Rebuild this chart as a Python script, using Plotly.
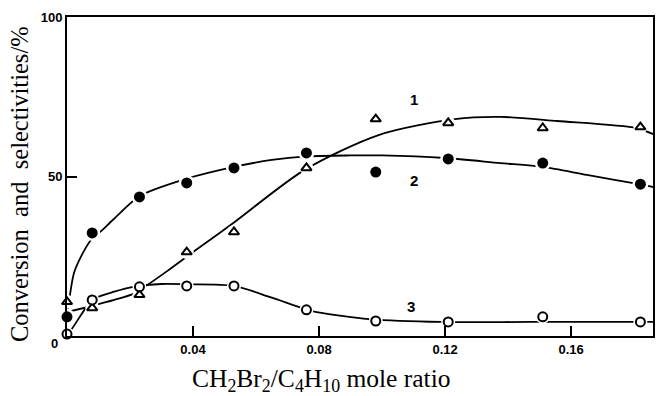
import plotly.graph_objects as go

x_ratio = [0.0, 0.008, 0.023, 0.038, 0.053, 0.076, 0.098, 0.121, 0.151, 0.182]
conv_1 = [10.7, 8.8, 12.9, 26.3, 32.6, 52.7, 68.0, 66.8, 65.2, 65.5]   # triangles
sel_2 = [6.0, 32.3, 43.6, 48.0, 52.7, 57.4, 51.4, 55.5, 54.2, 47.6]     # filled circles
sel_3 = [0.6, 11.3, 15.4, 15.7, 15.7, 8.2, 4.7, 4.4, 6.0, 4.4]          # open circles

# Hand-drawn fitted curves
curve1_x = [0.0, 0.007, 0.015, 0.021, 0.0255, 0.032, 0.040, 0.053, 0.0753, 0.0989, 0.1231, 0.1376, 0.1556, 0.1808, 0.186]
curve1_y = [7.5, 9.2, 11.3, 13.2, 16.0, 20.5, 26.3, 35.6, 52.0, 63.0, 68.0, 68.7, 67.4, 65.2, 63.3]
curve2_x = [0.0, 0.0022, 0.0044, 0.0076, 0.0107, 0.0148, 0.023, 0.038, 0.053, 0.065, 0.076, 0.090, 0.100, 0.120, 0.1375, 0.151, 0.165, 0.182, 0.186]
curve2_y = [6.0, 19.7, 24.8, 30.1, 32.8, 36.6, 43.8, 49.3, 53.0, 55.2, 56.3, 56.6, 56.6, 55.8, 54.2, 53.0, 50.5, 47.5, 46.7]
curve3_x = [0.0, 0.0013, 0.0066, 0.009, 0.015, 0.021, 0.030, 0.038, 0.053, 0.065, 0.0778, 0.0878, 0.0957, 0.1187, 0.147, 0.186]
curve3_y = [0.6, 1.9, 9.7, 11.9, 13.9, 15.4, 16.3, 16.2, 15.7, 12.0, 7.8, 6.2, 5.3, 4.4, 4.4, 4.4]

# Curve labels
label_text = ["1", "2", "3"]
label_x = [0.110, 0.110, 0.1093]
label_y = [74.0, 48.9, 9.1]

x_ticks = [0.04, 0.08, 0.12, 0.16]
x_tick_text = ["0.04", "0.08", "0.12", "0.16"]
y_ticks = [50, 100]
y_tick_text = ["50", "100"]

fig = go.Figure()

for cx, cy in [(curve1_x, curve1_y), (curve2_x, curve2_y), (curve3_x, curve3_y)]:
    fig.add_trace(go.Scatter(x=cx, y=cy, mode="lines",
                             line=dict(color="black", width=1.8, shape="spline", smoothing=0.8),
                             hoverinfo="skip", showlegend=False))

# white halos so the curves stop short of the markers
for ys, size in [(conv_1, 14), (sel_2, 16), (sel_3, 14)]:
    fig.add_trace(go.Scatter(x=x_ratio, y=ys, mode="markers",
                             marker=dict(color="white", size=size, line=dict(width=0)),
                             hoverinfo="skip", showlegend=False, cliponaxis=False))

fig.add_trace(go.Scatter(x=x_ratio, y=conv_1, mode="markers", name="1",
                         marker=dict(symbol="triangle-up", size=9, color="white",
                                     line=dict(color="black", width=2)),
                         showlegend=False, cliponaxis=False))
fig.add_trace(go.Scatter(x=x_ratio, y=sel_2, mode="markers", name="2",
                         marker=dict(symbol="circle", size=11, color="black",
                                     line=dict(color="black", width=0)),
                         showlegend=False, cliponaxis=False))
fig.add_trace(go.Scatter(x=x_ratio, y=sel_3, mode="markers", name="3",
                         marker=dict(symbol="circle", size=9, color="white",
                                     line=dict(color="black", width=2)),
                         showlegend=False, cliponaxis=False))

annotations = []
for t, lx, ly in zip(label_text, label_x, label_y):
    annotations.append(dict(x=lx, y=ly, text=t, showarrow=False,
                            xanchor="center", yanchor="middle",
                            font=dict(family="Liberation Sans", size=15, color="black", weight="bold")))

annotations.append(dict(xref="paper", yref="paper", x=-0.022, y=-0.025, text="0", showarrow=False,
                        xanchor="center", yanchor="middle",
                        font=dict(family="Liberation Sans", size=13, color="black", weight="bold")))
annotations.append(dict(xref="paper", yref="paper", x=0.435, y=-0.138,
                        text="CH<sub>2</sub>Br<sub>2</sub>/C<sub>4</sub>H<sub>10</sub> mole ratio",
                        xanchor="center", yanchor="middle",
                        showarrow=False, font=dict(family="Liberation Serif", size=25.5, color="black")))
annotations.append(dict(xref="paper", yref="paper", x=-0.08, y=0.4765,
                        text="Conversion\u00a0 and\u00a0 selectivities/%", textangle=-90,
                        xanchor="center", yanchor="middle",
                        showarrow=False, font=dict(family="Liberation Serif", size=24.5, color="black")))

fig.update_layout(
    width=656, height=396,
    margin=dict(l=67, r=1, t=17, b=60),
    paper_bgcolor="white", plot_bgcolor="white",
    annotations=annotations,
    xaxis=dict(range=[0, 0.186], tickvals=x_ticks, ticktext=x_tick_text,
               ticks="inside", ticklen=10, tickwidth=2, tickcolor="black",
               showline=True, linecolor="black", linewidth=2, mirror=True,
               showgrid=False, zeroline=False,
               tickfont=dict(family="Liberation Sans", size=13, color="black", weight="bold")),
    yaxis=dict(range=[0, 100], tickvals=y_ticks, ticktext=y_tick_text,
               ticks="inside", ticklen=10, tickwidth=2, tickcolor="black",
               showline=True, linecolor="black", linewidth=2, mirror=True,
               showgrid=False, zeroline=False,
               tickfont=dict(family="Liberation Sans", size=13, color="black", weight="bold")),
)

# remove the page's default body margin so the figure fills the window exactly
fig.write_html("out.html", config={"displayModeBar": False},
               post_script="document.body.style.margin='0';document.body.style.overflow='hidden';")
